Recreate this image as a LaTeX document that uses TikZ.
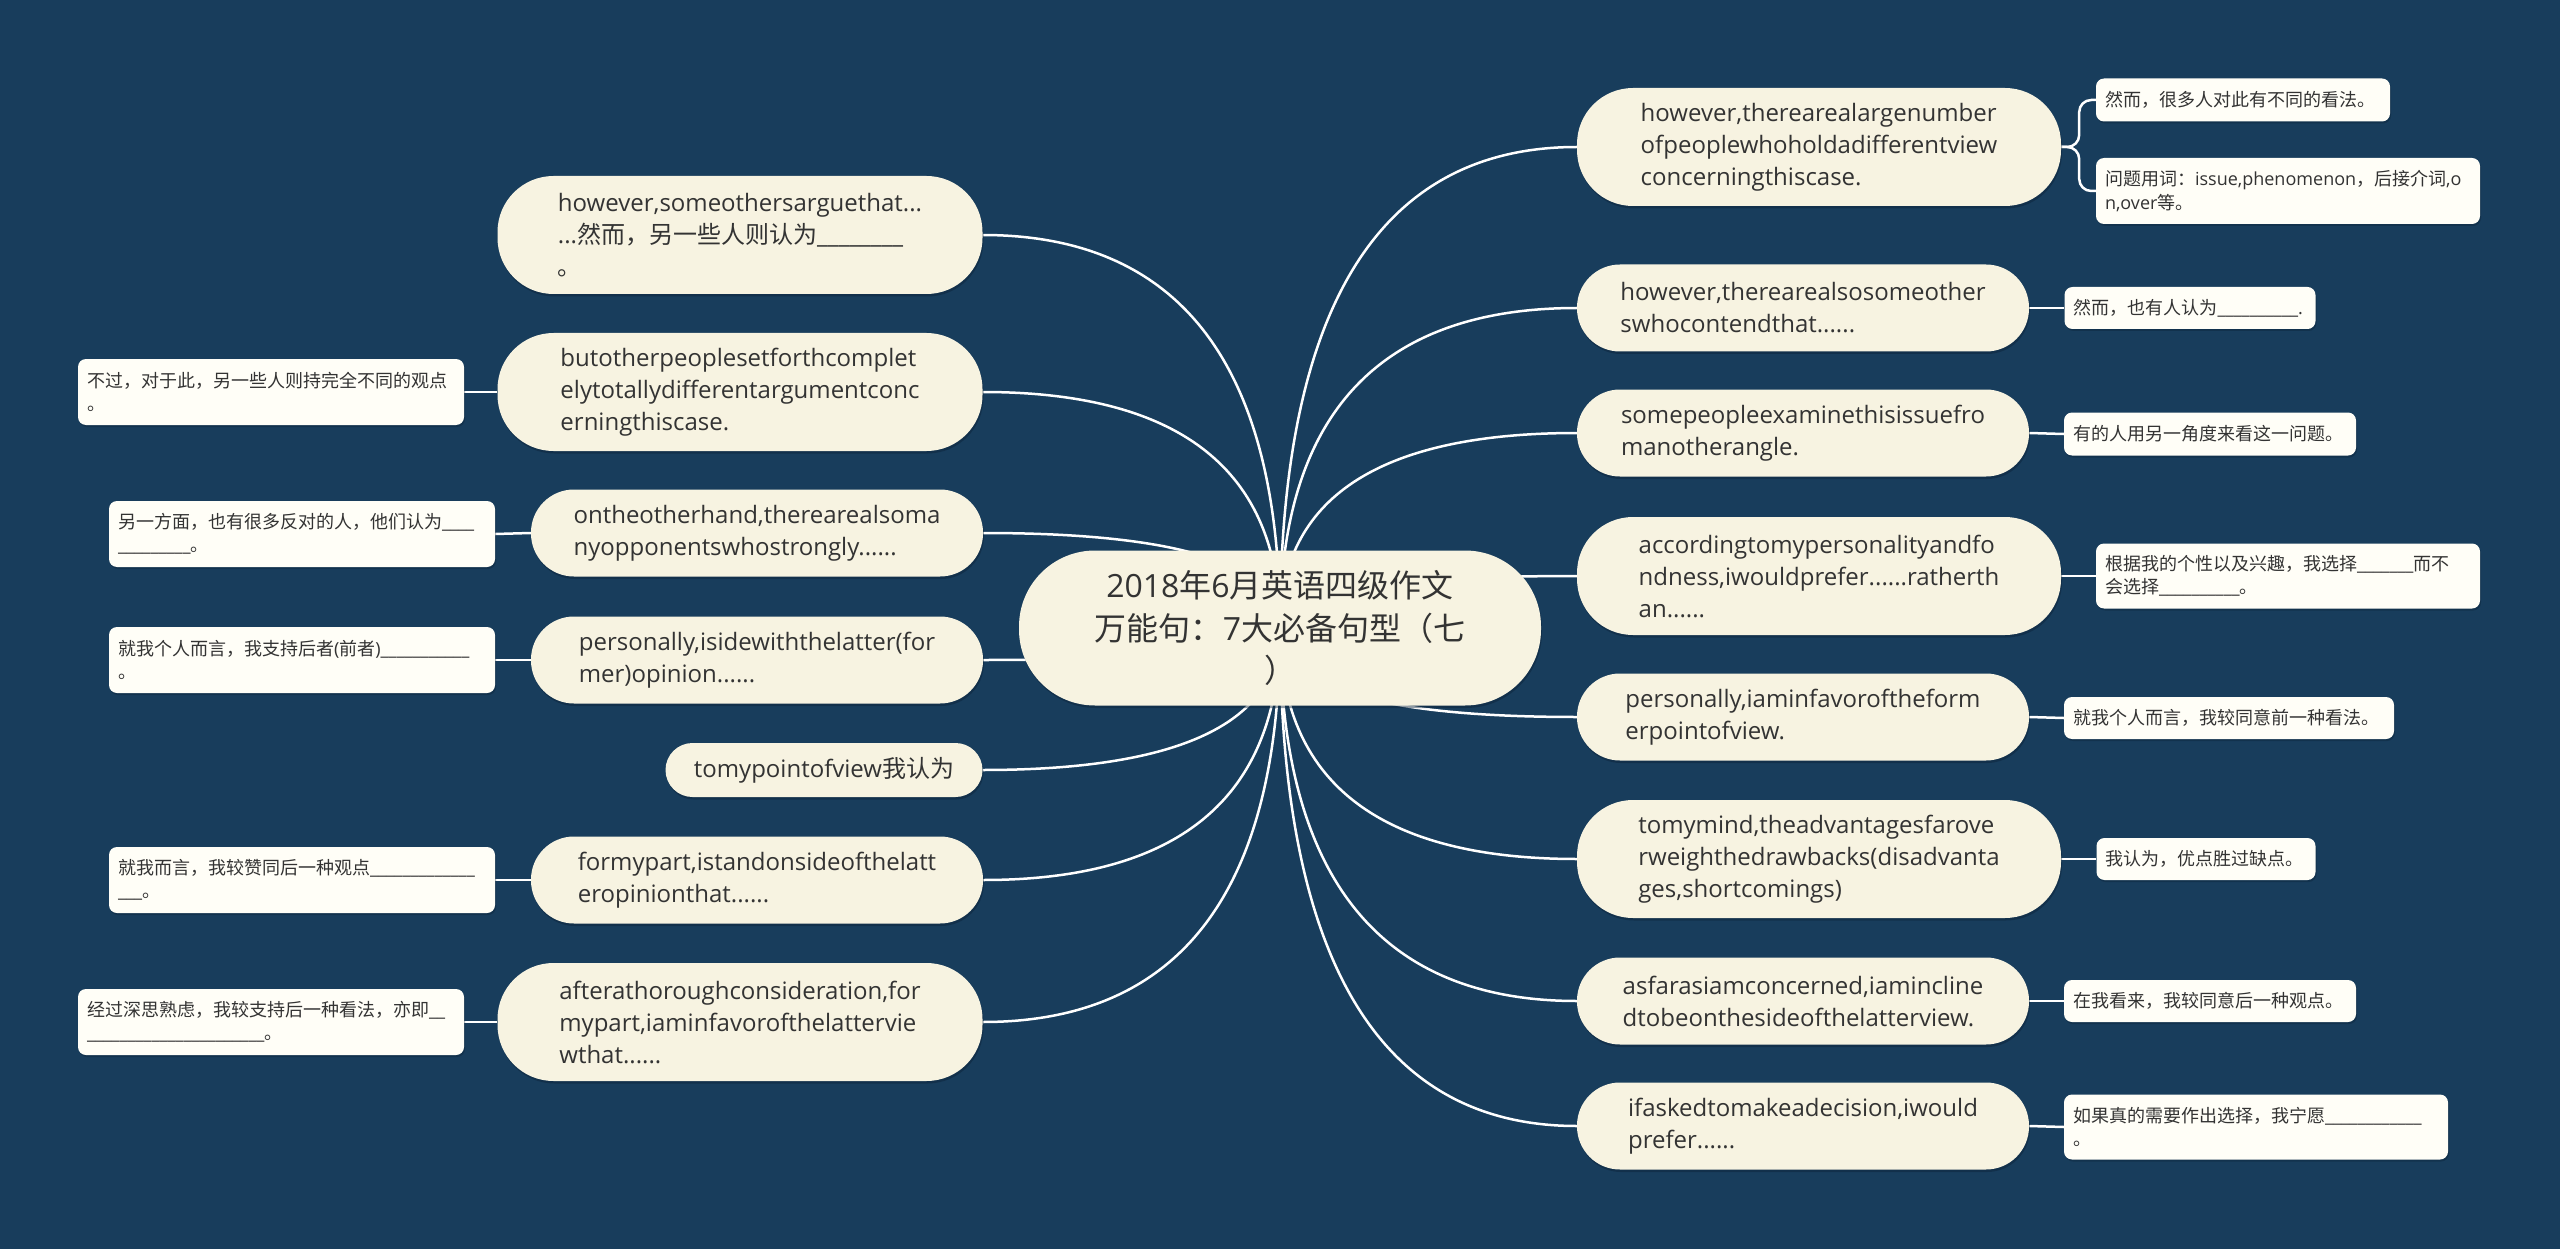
\documentclass[tikz,border=0pt]{standalone}
\usepackage{fontspec}
\setmainfont{Open Sans}
\newfontfamily\cjkfont{Noto Sans CJK SC}
\usetikzlibrary{calc,shadows}
\newcommand\zhs[1]{{\cjkfont #1}}
\newcommand\blanks[1]{\foreach \k in {1,...,#1}{\_}}
\definecolor{bg}{HTML}{183D5C}
\definecolor{cream}{HTML}{F7F3E1}
\definecolor{leaf}{HTML}{FFFEF7}
\definecolor{txt}{HTML}{333333}
\definecolor{shade}{HTML}{0B2238}
\pgfdeclarelayer{back}
\pgfdeclarelayer{lines}
\pgfsetlayers{back,lines,main}
\tikzset{
  mainbox/.style={fill=cream, text=txt, align=left, inner sep=0pt,
    font=\fontsize{24}{32}\selectfont,
    drop shadow={shadow xshift=1pt, shadow yshift=-2.5pt, fill=shade, opacity=0.45}},
  mthree/.style={mainbox, minimum width=485pt, minimum height=118pt, rounded corners=56pt},
  mtwo/.style={mainbox, minimum width=452pt, minimum height=87pt, rounded corners=43pt},
  leafbox/.style={fill=leaf, text=txt, align=left, inner xsep=9pt, inner ysep=0pt,
    rounded corners=8pt, font=\fontsize{18}{23.5}\selectfont,
    drop shadow={shadow xshift=1pt, shadow yshift=-2pt, fill=shade, opacity=0.4}},
  conn/.style={draw=white, line width=2.5pt},
}
\newcommand\qlink[2]{\draw[conn] (#1.center) .. controls ($(#1.center)!0.6667!(#1.center |- #2)$) and ($(#2)!0.6667!(#1.center |- #2)$) .. (#2);}
\begin{document}
\begin{tikzpicture}[x=1pt,y=-1pt]
\begin{pgfonlayer}{back}
\fill[bg] (0,0) rectangle (2560,1249);
\end{pgfonlayer}
\useasboundingbox (0,0) rectangle (2560,1249);

% center
\node[fill=cream, text=txt, align=center, inner sep=0pt, minimum width=522pt, minimum height=155pt,
  rounded corners=76pt, font=\fontsize{32}{42.5}\selectfont,
  drop shadow={shadow xshift=1pt, shadow yshift=-2.5pt, fill=shade, opacity=0.45}] (C) at (1280,628)
  {2018\zhs{年}6\zhs{月英语四级作文}\\\zhs{万能句：}7\zhs{大必备句型（七}\\\zhs{）}};

% left main nodes
\node[mthree] (L1) at (740,235) {however,someothersarguethat...\\...\zhs{然而，另一些人则认为}\blanks{8}\\\zhs{。}};
\node[mthree] (L2) at (740,392) {butotherpeoplesetforthcomplet\\elytotallydifferentargumentconc\\erningthiscase.};
\node[mtwo] (L3) at (757,533) {ontheotherhand,therearealsoma\\nyopponentswhostrongly......};
\node[mtwo] (L4) at (757,660) {personally,isidewiththelatter(for\\mer)opinion......};
\node[mainbox, minimum width=317pt, minimum height=54pt, rounded corners=27pt] (L5) at (824,770) {tomypointofview\zhs{我认为}};
\node[mtwo] (L6) at (757,880) {formypart,istandonsideofthelatt\\eropinionthat......};
\node[mthree] (L7) at (740,1022) {afterathoroughconsideration,for\\mypart,iaminfavorofthelattervie\\wthat......};

% right main nodes
\node[mthree, minimum width=484pt] (R1) at (1819,147) {however,therearealargenumber\\ofpeoplewhoholdadifferentview\\concerningthiscase.};
\node[mtwo] (R2) at (1803,308) {however,therearealsosomeother\\swhocontendthat......};
\node[mtwo] (R3) at (1803,433) {somepeopleexaminethisissuefro\\manotherangle.};
\node[mthree, minimum width=484pt] (R4) at (1819,576) {accordingtomypersonalityandfo\\ndness,iwouldprefer......ratherth\\an......};
\node[mtwo] (R5) at (1803,717) {personally,iaminfavoroftheform\\erpointofview.};
\node[mthree, minimum width=484pt] (R6) at (1819,859) {tomymind,theadvantagesfarove\\rweighthedrawbacks(disadvanta\\ges,shortcomings)};
\node[mtwo] (R7) at (1803,1001) {asfarasiamconcerned,iamincline\\dtobeonthesideofthelatterview.};
\node[mtwo] (R8) at (1803,1126) {ifaskedtomakeadecision,iwould\\prefer......};

% left leaves
\node[leafbox, text width=368pt, minimum height=66pt] (L2l) at (271,392) {\zhs{不过，对于此，另一些人则持完全不同的观点}\\\zhs{。}};
\node[leafbox, text width=368pt, minimum height=66pt] (L3l) at (302,534) {\zhs{另一方面，也有很多反对的人，他们认为}\blanks{4}\\\blanks{9}\zhs{。}};
\node[leafbox, text width=368pt, minimum height=66pt] (L4l) at (302,660) {\zhs{就我个人而言，我支持后者}(\zhs{前者})\blanks{11}\\\zhs{。}};
\node[leafbox, text width=368pt, minimum height=66pt] (L6l) at (302,880) {\zhs{就我而言，我较赞同后一种观点}\blanks{13}\\\blanks{3}\zhs{。}};
\node[leafbox, text width=368pt, minimum height=66pt] (L7l) at (271,1022) {\zhs{经过深思熟虑，我较支持后一种看法，亦即}\blanks{2}\\\blanks{22}\zhs{。}};

% right leaves
\node[leafbox, text width=276pt, minimum height=43pt] (R1a) at (2243,100) {\zhs{然而，很多人对此有不同的看法。}};
\node[leafbox, text width=366pt, minimum height=66pt] (R1b) at (2288,191) {\zhs{问题用词：}issue,phenomenon\zhs{，后接介词},o\\n,over\zhs{等。}};
\node[leafbox, text width=233pt, minimum height=42pt] (R2l) at (2190,308) {\zhs{然而，也有人认为}\blanks{10}.};
\node[leafbox, text width=274pt, minimum height=43pt] (R3l) at (2210,434) {\zhs{有的人用另一角度来看这一问题。}};
\node[leafbox, text width=366pt, minimum height=65pt] (R4l) at (2288,576) {\zhs{根据我的个性以及兴趣，我选择}\blanks{7}\zhs{而不}\\\zhs{会选择}\blanks{10}\zhs{。}};
\node[leafbox, text width=312pt, minimum height=42pt] (R5l) at (2229,718) {\zhs{就我个人而言，我较同意前一种看法。}};
\node[leafbox, text width=201pt, minimum height=42pt] (R6l) at (2206,859) {\zhs{我认为，优点胜过缺点。}};
\node[leafbox, text width=274pt, minimum height=42pt] (R7l) at (2210,1001) {\zhs{在我看来，我较同意后一种观点。}};
\node[leafbox, text width=366pt, minimum height=65pt] (R8l) at (2256,1127) {\zhs{如果真的需要作出选择，我宁愿}\blanks{12}\\\zhs{。}};

\begin{pgfonlayer}{lines}
\foreach \n in {L1,L2,L3,L4,L5,L6,L7} {\qlink{C}{\n.east}}
\foreach \n in {R1,R2,R3,R4,R5,R6,R7,R8} {\qlink{C}{\n.west}}
\foreach \n in {L2,L3,L4,L6,L7} {\draw[conn] (\n.west) -- (\n l.east);}
\foreach \n in {R2,R3,R4,R5,R6,R7,R8} {\draw[conn] (\n.east) -- (\n l.west);}
\draw[conn, rounded corners=12pt] (R1.east) -- ++(18,0) |- (R1a.west);
\draw[conn, rounded corners=12pt] (R1.east) -- ++(18,0) |- (R1b.west);
\end{pgfonlayer}
\end{tikzpicture}
\end{document}
